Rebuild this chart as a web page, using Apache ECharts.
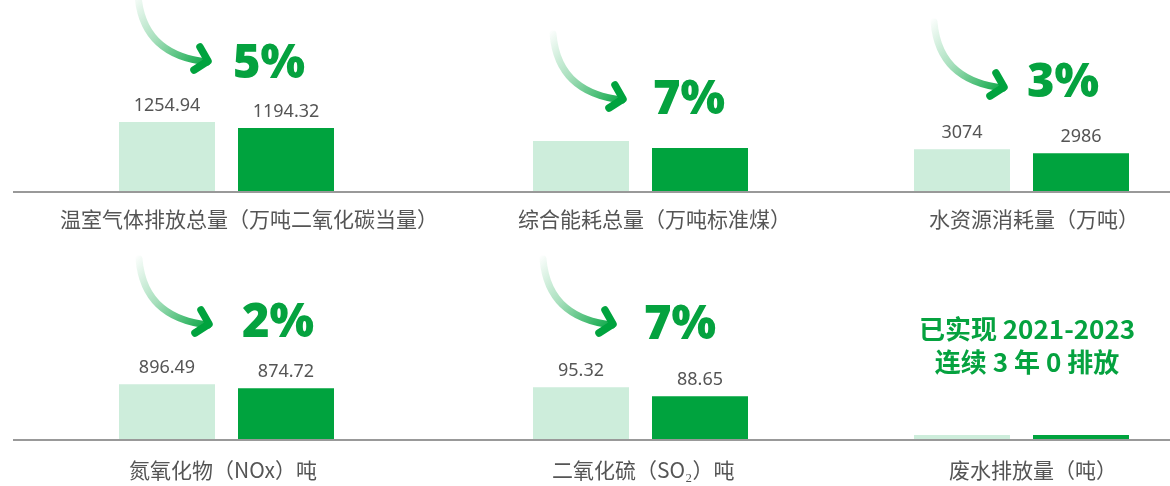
<!DOCTYPE html>
<html><head><meta charset="utf-8">
<script src="https://cdn.jsdelivr.net/npm/echarts@6.0.0/dist/echarts.min.js"></script>
<style>html,body{margin:0;padding:0;background:#fff}#c{width:1170px;height:486px}</style>
</head><body><div id="c"></div>
<script>
// ---- data ----
const years = ['2022', '2023'];
const titles = ['温室气体排放总量（万吨二氧化碳当量）', '综合能耗总量（万吨标准煤）', '水资源消耗量（万吨）',
                '氮氧化物（NOx）吨', '二氧化硫（SO₂）吨', '废水排放量（吨）'];
const ghg = [1254.94, 1194.32];
const energy = [100, 93];          // not printed in the source; relative estimate
const water = [3074, 2986];
const nox = [896.49, 874.72];
const so2 = [95.32, 88.65];
const wastewater = [0, 0];
const declines = ['5%', '7%', '3%', '2%', '7%', null];
const showValues = [true, false, true, true, true, false];
const zeroNote = ['已实现 2021-2023', '连续 3 年 0 排放'];

// ---- layout ----
const panels = [ghg, energy, water, nox, so2, wastewater];
const axisRange = [[558, 1568], [50, 150], [2157, 4356], [598, 1144], [57, 131.1], [0, 100]];
const colLeft = [107.5, 521.5, 902.5];
const rowTop = [91, 339];
const baseY = [192, 440];
const gridW = 238, gridH = 100;
const LIGHT = '#cdeddb', DARK = '#00a33e', GREEN = '#05a23f';
const titleX = [60, 518, 929, 129, 552, 949];
const titleY = [219, 470];
const pctPos = [[269, 65], [689, 101], [1063, 84], [278, 324], [680, 326]];
const arrowTip = [[212, 62], [627, 100], [1008, 88], [213, 325], [617, 325]];

const grids = [], xAxes = [], yAxes = [], series = [], graphic = [];
panels.forEach((vals, i) => {
  const col = i % 3, row = Math.floor(i / 3);
  grids.push({left: colLeft[col], top: rowTop[row], width: gridW, height: gridH, containLabel: false});
  xAxes.push({type: 'category', gridIndex: i, data: years, show: false});
  yAxes.push({type: 'value', gridIndex: i, min: axisRange[i][0], max: axisRange[i][1], show: false});
  series.push({
    type: 'bar', xAxisIndex: i, yAxisIndex: i, barWidth: 96, barMinHeight: 4, clip: true,
    data: vals,
    itemStyle: {color: p => p.dataIndex === 0 ? LIGHT : DARK},
    label: {show: showValues[i], position: 'top', distance: 7, fontSize: 18,
            fontFamily: 'Noto Sans', color: '#555'}
  });
});

baseY.forEach(y => graphic.push({type: 'line', shape: {x1: 13, y1: y, x2: 1170, y2: y},
  style: {stroke: '#999', lineWidth: 2}, z: 10}));

titles.forEach((t, i) => graphic.push({type: 'text', x: titleX[i], y: titleY[Math.floor(i / 3)],
  style: {text: t, fontSize: 21, fontFamily: 'Noto Sans CJK SC', fill: '#555',
          align: 'left', verticalAlign: 'middle', textAlign: 'left', textVerticalAlign: 'middle'}}));

declines.forEach((d, i) => {
  if (!d) return;
  graphic.push({type: 'text', x: pctPos[i][0], y: pctPos[i][1],
    style: {text: d, fontSize: 47, fontWeight: 800, fontFamily: 'Open Sans', fill: GREEN,
            align: 'center', verticalAlign: 'middle', textAlign: 'center', textVerticalAlign: 'middle'}});
  graphic.push({type: 'group', x: arrowTip[i][0], y: arrowTip[i][1], children: [
    {type: 'bezierCurve', shape: {x1: -74, y1: -66, cpx1: -70, cpy1: -20, cpx2: -40, cpy2: -4, x2: -5, y2: 0},
     style: {fill: 'none', lineWidth: 7, lineCap: 'round',
       stroke: {type: 'linear', x: 0, y: 0, x2: 1, y2: 1, colorStops: [
         {offset: 0, color: 'rgba(0,163,62,0)'}, {offset: 0.45, color: 'rgba(0,163,62,0.35)'},
         {offset: 1, color: 'rgba(0,163,62,1)'}]}}},
    {type: 'polyline', shape: {points: [[-12, -15], [-4, -1], [-18, 8]]},
     style: {fill: 'none', stroke: DARK, lineWidth: 7.5, lineCap: 'round', lineJoin: 'round'}}
  ]});
});

graphic.push({type: 'text', x: 1027, y: 346,
  style: {text: zeroNote.join('\n'), fontSize: 26, fontWeight: 'bold', lineHeight: 33,
          fontFamily: 'Noto Sans CJK SC', fill: GREEN,
          align: 'center', verticalAlign: 'middle', textAlign: 'center', textVerticalAlign: 'middle'}});

const chart = echarts.init(document.getElementById('c'));
chart.setOption({animation: false, grid: grids, xAxis: xAxes, yAxis: yAxes, series, graphic});
</script></body></html>
